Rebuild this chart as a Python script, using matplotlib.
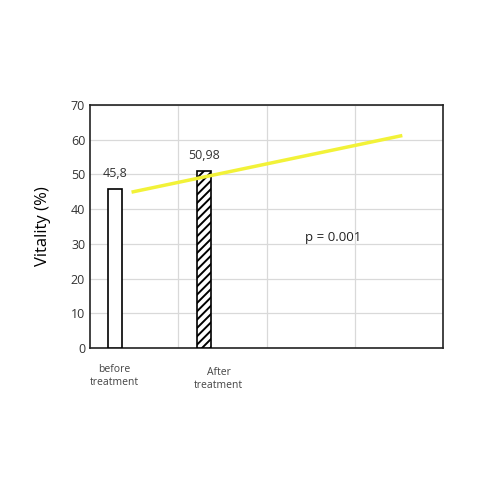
import matplotlib
matplotlib.use('Agg')
import matplotlib.pyplot as plt

plt.rcParams['font.family'] = ['Open Sans', 'DejaVu Sans']
plt.rcParams['hatch.linewidth'] = 1.4

groups = ['before\ntreatment', 'After\ntreatment']
vitality = [45.8, 50.98]
value_labels = ['45,8', '50,98']
trend_x = [0.49, 3.52]
trend_y = [45.0, 61.1]
p_text = 'p = 0.001'

fig = plt.figure(figsize=(5, 5), dpi=100)
ax = fig.add_axes([0.18, 0.304, 0.706, 0.486])

bar_x = [0.28, 1.29]
ax.bar(bar_x[0], vitality[0], width=0.16, color='white', edgecolor='black', linewidth=1.2, zorder=3)
ax.bar(bar_x[1], vitality[1], width=0.16, color='white', edgecolor='black', linewidth=1.2,
       hatch='////', zorder=3)

for x, v, lab in zip(bar_x, vitality, value_labels):
    ax.text(x, v + 2.5, lab, ha='center', va='bottom', fontsize=9, color='#333333')

ax.plot(trend_x, trend_y, color='#f2f238', linewidth=2.5, zorder=4)
ax.text(2.75, 31.7, p_text, ha='center', va='center', fontsize=9.5, color='#222222')

ax.set_xlim(0, 4)
ax.set_ylim(0, 70)
ax.set_yticks(range(0, 71, 10))
ax.set_xticks([1, 2, 3])
ax.set_xticklabels([])
ax.grid(True, color='#d9d9d9', linewidth=0.9, zorder=0)
ax.tick_params(length=0, labelsize=9, colors='#333333')
for s in ax.spines.values():
    s.set_linewidth(1.2)
    s.set_color('#222222')

ax.text(bar_x[0], -4.5, groups[0], ha='center', va='top', fontsize=7.5, color='#444444',
        linespacing=1.3)
ax.text(bar_x[1] + 0.17, -5.5, groups[1], ha='center', va='top', fontsize=7.5, color='#444444',
        linespacing=1.3)

ax.set_ylabel('Vitality (%)', fontsize=12, labelpad=14)

fig.savefig('out.png', dpi=100)
